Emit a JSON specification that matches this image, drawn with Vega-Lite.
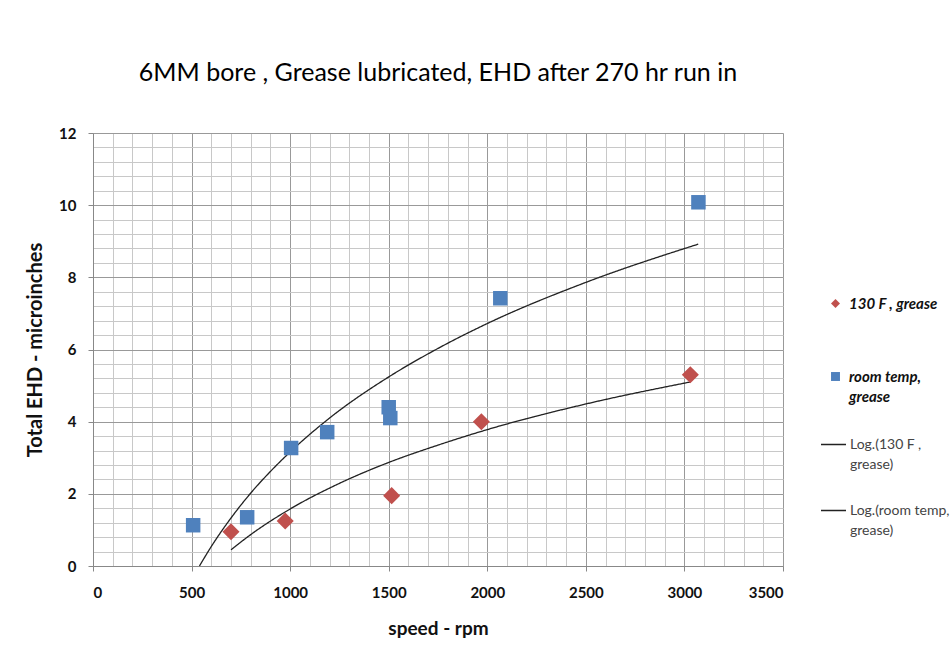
{
  "$schema": "https://vega.github.io/schema/vega-lite/v6.json",
  "width": 690,
  "height": 433,
  "autosize": {"type": "none"},
  "padding": {"left": 93, "top": 133, "right": 168, "bottom": 83},
  "background": "white",
  "config": {
    "view": {"stroke": null},
    "font": "Lato",
    "style": {"guide-label": {"lineHeight": 20}}
  },
  "title": {
    "text": "6MM bore , Grease lubricated,  EHD after 270 hr run in",
    "fontSize": 25,
    "fontWeight": "normal",
    "anchor": "middle",
    "frame": "group",
    "offset": 40,
    "color": "black"
  },
  "datasets": {
    "pts": [
      {"series": "130 F , grease", "rpm": 700, "ehd": 0.95},
      {"series": "130 F , grease", "rpm": 975, "ehd": 1.25},
      {"series": "130 F , grease", "rpm": 1515, "ehd": 1.95},
      {"series": "130 F , grease", "rpm": 1970, "ehd": 4.0},
      {"series": "130 F , grease", "rpm": 3030, "ehd": 5.3},
      {"series": "room temp, grease", "rpm": 508, "ehd": 1.13},
      {"series": "room temp, grease", "rpm": 782, "ehd": 1.35},
      {"series": "room temp, grease", "rpm": 1005, "ehd": 3.27},
      {"series": "room temp, grease", "rpm": 1188, "ehd": 3.71},
      {"series": "room temp, grease", "rpm": 1500, "ehd": 4.4},
      {"series": "room temp, grease", "rpm": 1508, "ehd": 4.1},
      {"series": "room temp, grease", "rpm": 2066, "ehd": 7.42},
      {"series": "room temp, grease", "rpm": 3071, "ehd": 10.08}
    ],
    "trend": [
      {"trend": "Log.(room temp, grease)", "rpm": 540, "ehd": 0.0},
      {"trend": "Log.(room temp, grease)", "rpm": 600, "ehd": 0.54},
      {"trend": "Log.(room temp, grease)", "rpm": 700, "ehd": 1.33},
      {"trend": "Log.(room temp, grease)", "rpm": 800, "ehd": 2.02},
      {"trend": "Log.(room temp, grease)", "rpm": 900, "ehd": 2.62},
      {"trend": "Log.(room temp, grease)", "rpm": 1000, "ehd": 3.16},
      {"trend": "Log.(room temp, grease)", "rpm": 1200, "ehd": 4.1},
      {"trend": "Log.(room temp, grease)", "rpm": 1500, "ehd": 5.24},
      {"trend": "Log.(room temp, grease)", "rpm": 1750, "ehd": 6.03},
      {"trend": "Log.(room temp, grease)", "rpm": 2000, "ehd": 6.72},
      {"trend": "Log.(room temp, grease)", "rpm": 2500, "ehd": 7.86},
      {"trend": "Log.(room temp, grease)", "rpm": 3070, "ehd": 8.92},
      {"trend": "Log.(130 F , grease)", "rpm": 700, "ehd": 0.45},
      {"trend": "Log.(130 F , grease)", "rpm": 800, "ehd": 0.87},
      {"trend": "Log.(130 F , grease)", "rpm": 1000, "ehd": 1.58},
      {"trend": "Log.(130 F , grease)", "rpm": 1250, "ehd": 2.29},
      {"trend": "Log.(130 F , grease)", "rpm": 1500, "ehd": 2.87},
      {"trend": "Log.(130 F , grease)", "rpm": 1750, "ehd": 3.35},
      {"trend": "Log.(130 F , grease)", "rpm": 2000, "ehd": 3.78},
      {"trend": "Log.(130 F , grease)", "rpm": 2500, "ehd": 4.49},
      {"trend": "Log.(130 F , grease)", "rpm": 3030, "ehd": 5.1}
    ]
  },
  "layer": [
    {
      "data": {"name": "trend"},
      "mark": {"type": "line", "strokeWidth": 1.3, "color": "#222", "interpolate": "monotone"},
      "encoding": {
        "x": {
          "field": "rpm", "type": "quantitative",
          "scale": {"domain": [0, 3500], "nice": false},
          "axis": {
            "orient": "bottom", "title": null, "labels": false, "ticks": false, "domain": false,
            "grid": true, "gridColor": "#c8c8c8", "gridWidth": 1,
            "values": [0,100,200,300,400,500,600,700,800,900,1000,1100,1200,1300,1400,1500,1600,1700,1800,1900,2000,2100,2200,2300,2400,2500,2600,2700,2800,2900,3000,3100,3200,3300,3400,3500]
          }
        },
        "y": {
          "field": "ehd", "type": "quantitative",
          "scale": {"domain": [0, 12], "nice": false},
          "axis": {
            "orient": "left", "title": null, "labels": false, "ticks": false, "domain": false,
            "grid": true, "gridColor": "#c8c8c8", "gridWidth": 1,
            "values": [0,0.4,0.8,1.2,1.6,2,2.4,2.8,3.2,3.6,4,4.4,4.8,5.2,5.6,6,6.4,6.8,7.2,7.6,8,8.4,8.8,9.2,9.6,10,10.4,10.8,11.2,11.6,12]
          }
        },
        "strokeDash": {
          "field": "trend", "type": "nominal",
          "scale": {"domain": ["Log.(130 F , grease)", "Log.(room temp, grease)"], "range": [[1, 0], [1, 0]]},
          "legend": {
            "orient": "none", "legendX": 727, "legendY": 298, "title": null,
            "symbolType": "stroke", "symbolSize": 625, "symbolStrokeWidth": 1.3, "symbolStrokeColor": "#222",
            "labelFontSize": 14, "labelColor": "#444", "labelOffset": 3, "labelLimit": 300,
            "rowPadding": 25,
            "labelExpr": "datum.label == 'Log.(130 F , grease)' ? ['Log.(130 F ,', 'grease)'] : ['Log.(room temp,', 'grease)']"
          }
        }
      }
    },
    {
      "data": {"name": "pts"},
      "transform": [{"filter": "datum.series == '130 F , grease'"}],
      "mark": {"type": "point", "filled": true, "opacity": 1, "size": 290},
      "encoding": {
        "x": {"field": "rpm", "type": "quantitative", "axis": null},
        "y": {"field": "ehd", "type": "quantitative", "axis": null},
        "color": {"field": "series", "type": "nominal"},
        "shape": {"field": "series", "type": "nominal"}
      }
    },
    {
      "data": {"name": "pts"},
      "transform": [{"filter": "datum.series == 'room temp, grease'"}],
      "mark": {"type": "point", "filled": true, "opacity": 1, "size": 210},
      "encoding": {
        "x": {
          "field": "rpm", "type": "quantitative",
          "axis": {
            "orient": "bottom", "title": "speed - rpm", "format": "d",
            "values": [0,500,1000,1500,2000,2500,3000,3500],
            "grid": true, "gridColor": "#999999", "gridWidth": 1,
            "domainColor": "#888888", "tickColor": "#888888", "tickSize": 5,
            "labelFontSize": 15, "labelFontWeight": "bold", "labelColor": "#111", "labelPadding": 14,
            "titleFontSize": 19, "titleFontWeight": "bold", "titleColor": "#111", "titlePadding": 19
          }
        },
        "y": {
          "field": "ehd", "type": "quantitative",
          "axis": {
            "orient": "left", "title": "Total EHD - microinches",
            "values": [0,2,4,6,8,10,12],
            "grid": true, "gridColor": "#999999", "gridWidth": 1,
            "domainColor": "#888888", "tickColor": "#888888", "tickSize": 5,
            "labelFontSize": 15, "labelFontWeight": "bold", "labelColor": "#111", "labelPadding": 12,
            "titleFontSize": 20, "titleFontWeight": "bold", "titleColor": "#111", "titlePadding": 13
          }
        },
        "color": {
          "field": "series", "type": "nominal",
          "scale": {"domain": ["130 F , grease", "room temp, grease"], "range": ["#c0504d", "#4f81bd"]},
          "legend": {
            "orient": "none", "legendX": 735, "legendY": 163, "title": null,
            "symbolSize": 80, "labelFontSize": 15, "labelFontWeight": "bold", "labelFontStyle": "italic",
            "labelColor": "#111", "labelOffset": 6, "labelLimit": 300, "rowPadding": 57,
            "labelExpr": "datum.label == 'room temp, grease' ? ['room temp,', 'grease'] : datum.label"
          }
        },
        "shape": {
          "field": "series", "type": "nominal",
          "scale": {"domain": ["130 F , grease", "room temp, grease"], "range": ["diamond", "square"]},
          "legend": null
        }
      }
    }
  ],
  "resolve": {"axis": {"x": "independent", "y": "independent"}}
}
